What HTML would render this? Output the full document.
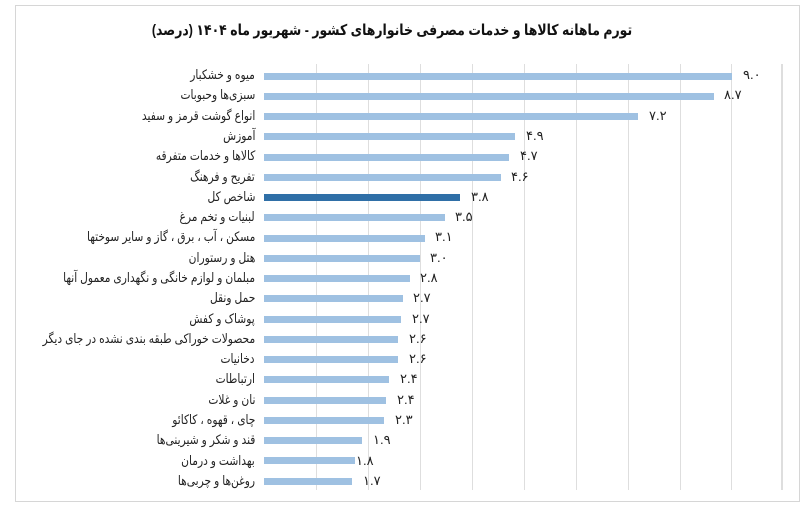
<!DOCTYPE html>
<html><head><meta charset="utf-8">
<style>
html,body{margin:0;padding:0;background:#fff;}
#c{position:relative;width:807px;height:507px;overflow:hidden;background:#fff;font-family:"Liberation Sans","Noto Sans CJK SC","DejaVu Sans",sans-serif;}
.frame{position:absolute;left:15px;top:5px;width:783px;height:495px;border:1px solid #d6d6d6;}
.title{position:absolute;left:92px;width:600px;top:21px;text-align:center;direction:rtl;font-size:15px;font-weight:bold;color:#111;white-space:nowrap;transform:scaleX(0.83);transform-origin:300px 50%;}
.grid{position:absolute;top:64px;height:426px;width:1.5px;background:#dedede;}
.bar{position:absolute;height:7px;left:264px;background:#9fc1e2;}
.bar.d{background:#2f6fa7;}
.lab{position:absolute;right:552px;direction:rtl;text-align:right;font-size:13px;color:#222;white-space:nowrap;line-height:14px;transform:scaleX(0.82);transform-origin:100% 50%;}
.val{position:absolute;font-size:13px;color:#222;white-space:nowrap;line-height:14px;direction:ltr;}
</style></head><body>
<div id="c">
<div class="frame"></div>
<div class="title">تورم ماهانه کالاها و خدمات مصرفی خانوارهای کشور - شهریور ماه ۱۴۰۴ (درصد)</div>
<div class="grid" style="left:315.5px"></div>
<div class="grid" style="left:367.5px"></div>
<div class="grid" style="left:419.5px"></div>
<div class="grid" style="left:471.5px"></div>
<div class="grid" style="left:523.5px"></div>
<div class="grid" style="left:575.5px"></div>
<div class="grid" style="left:627.5px"></div>
<div class="grid" style="left:679.5px"></div>
<div class="grid" style="left:730.5px"></div>
<div class="grid" style="left:781px"></div>

<div class="lab" style="top:68px">میوه و خشکبار</div><div class="bar" style="top:72.5px;width:468px"></div><div class="val" style="left:743px;top:68px">۹.۰</div>
<div class="lab" style="top:88px">سبزی‌ها وحبوبات</div><div class="bar" style="top:92.7px;width:450px"></div><div class="val" style="left:724px;top:88px">۸.۷</div>
<div class="lab" style="top:109px">انواع گوشت قرمز و سفید</div><div class="bar" style="top:113px;width:374px"></div><div class="val" style="left:649px;top:109px">۷.۲</div>
<div class="lab" style="top:129px">آموزش</div><div class="bar" style="top:133.2px;width:251px"></div><div class="val" style="left:526px;top:129px">۴.۹</div>
<div class="lab" style="top:149px">کالاها و خدمات متفرقه</div><div class="bar" style="top:153.5px;width:245px"></div><div class="val" style="left:520px;top:149px">۴.۷</div>
<div class="lab" style="top:170px">تفریح و فرهنگ</div><div class="bar" style="top:173.7px;width:237px"></div><div class="val" style="left:511px;top:170px">۴.۶</div>
<div class="lab" style="top:190px">شاخص کل</div><div class="bar d" style="top:194px;width:196px"></div><div class="val" style="left:471px;top:190px">۳.۸</div>
<div class="lab" style="top:210px">لبنیات و تخم مرغ</div><div class="bar" style="top:214.2px;width:181px"></div><div class="val" style="left:455px;top:210px">۳.۵</div>
<div class="lab" style="top:230px">مسکن ، آب ، برق ، گاز و سایر سوختها</div><div class="bar" style="top:234.5px;width:161px"></div><div class="val" style="left:435px;top:230px">۳.۱</div>
<div class="lab" style="top:251px">هتل و رستوران</div><div class="bar" style="top:254.7px;width:156px"></div><div class="val" style="left:430px;top:251px">۳.۰</div>
<div class="lab" style="top:271px">مبلمان و لوازم خانگی و نگهداری معمول آنها</div><div class="bar" style="top:275px;width:146px"></div><div class="val" style="left:420px;top:271px">۲.۸</div>
<div class="lab" style="top:291px">حمل ونقل</div><div class="bar" style="top:295.2px;width:139px"></div><div class="val" style="left:413px;top:291px">۲.۷</div>
<div class="lab" style="top:312px">پوشاک و کفش</div><div class="bar" style="top:315.5px;width:137px"></div><div class="val" style="left:412px;top:312px">۲.۷</div>
<div class="lab" style="top:332px">محصولات خوراکی طبقه بندی نشده در جای دیگر</div><div class="bar" style="top:335.7px;width:134px"></div><div class="val" style="left:409px;top:332px">۲.۶</div>
<div class="lab" style="top:352px">دخانیات</div><div class="bar" style="top:356px;width:134px"></div><div class="val" style="left:409px;top:352px">۲.۶</div>
<div class="lab" style="top:372px">ارتباطات</div><div class="bar" style="top:376.2px;width:125px"></div><div class="val" style="left:400px;top:372px">۲.۴</div>
<div class="lab" style="top:393px">نان و غلات</div><div class="bar" style="top:396.5px;width:122px"></div><div class="val" style="left:397px;top:393px">۲.۴</div>
<div class="lab" style="top:413px">چای ، قهوه ، کاکائو</div><div class="bar" style="top:416.7px;width:120px"></div><div class="val" style="left:395px;top:413px">۲.۳</div>
<div class="lab" style="top:433px">قند و شکر و شیرینی‌ها</div><div class="bar" style="top:437px;width:98px"></div><div class="val" style="left:373px;top:433px">۱.۹</div>
<div class="lab" style="top:454px">بهداشت و درمان</div><div class="bar" style="top:457.2px;width:91px"></div><div class="val" style="left:356px;top:454px">۱.۸</div>
<div class="lab" style="top:474px">روغن‌ها و چربی‌ها</div><div class="bar" style="top:477.5px;width:88px"></div><div class="val" style="left:363px;top:474px">۱.۷</div>
</div>
</body></html>
